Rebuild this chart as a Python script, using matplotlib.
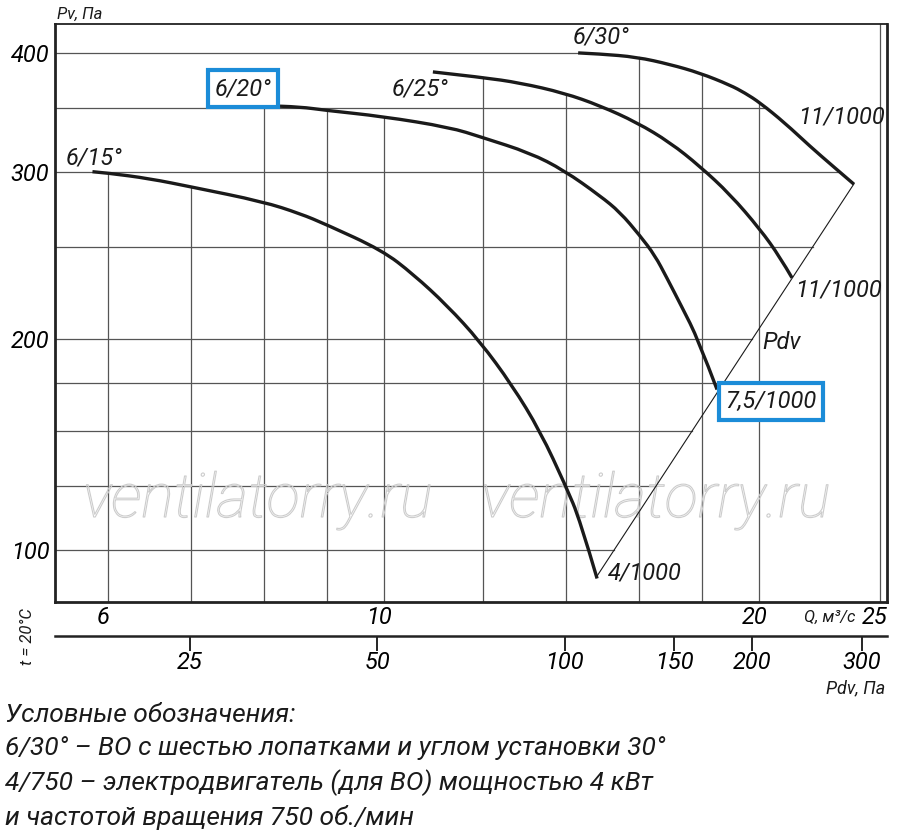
import numpy as np
import matplotlib
matplotlib.use("Agg")
import matplotlib.pyplot as plt
from matplotlib.ticker import NullLocator
from matplotlib import patheffects as pe
from matplotlib.path import Path
from matplotlib.patches import PathPatch
from matplotlib.transforms import ScaledTranslation

# ---------------- data (Q, 1000 m3/h ; Pv, Pa) ----------------
q_615 = [5.83, 6.00, 6.48, 7.01, 7.99, 8.56, 8.98, 9.96, 10.55, 11.23, 11.93, 12.66, 13.34, 13.99, 14.36, 14.82]
p_615 = [300, 299, 295, 289, 279, 271, 264, 248, 234, 217, 199, 179, 160, 140, 129, 112]

q_620 = [7.52, 7.99, 8.56, 8.98, 9.96, 11.29, 11.98, 13.09, 13.94, 14.90, 15.46, 16.04, 16.49, 16.86, 17.34, 17.86, 18.50]
p_620 = [353, 352, 351, 348, 343, 334, 326, 314, 301, 283, 272, 257, 245, 232, 216, 200, 177]

q_625 = [10.94, 11.98, 12.85, 13.94, 14.90, 15.95, 16.96, 17.92, 18.95, 20.03, 20.78, 21.25]
p_625 = [382, 377, 372, 363, 352, 338, 322, 304, 284, 261, 244, 232]

q_630 = [14.31, 14.90, 15.95, 16.96, 17.92, 18.95, 19.48, 20.03, 20.97, 21.97, 22.92, 23.83]
p_630 = [400, 399, 396, 389, 381, 370, 363, 354.5, 337.6, 319, 304, 291]

K_PDV = 0.513          # Pdv = K * Q^2

curve_names = ["6/15°", "6/20°", "6/25°", "6/30°"]
motor_labels = ["4/1000", "7,5/1000", "11/1000", "11/1000"]

grid_q = [6, 7, 8, 9, 10, 12, 14, 16, 18, 20, 25]
grid_p = [120, 140, 160, 180, 200, 250, 300, 350, 400]

q_ticks = [6, 10, 20, 25]
q_tick_labels = ["6", "10", "20", "25"]
p_ticks = [120, 200, 300, 400]
p_tick_labels = ["100", "200", "300", "400"]
pdv_ticks = [25, 50, 100, 150, 200, 300]
pdv_tick_labels = ["25", "50", "100", "150", "200", "300"]

legend_lines = [
    "Условные обозначения:",
    "6/30° – ВО с шестью лопатками и углом установки 30°",
    "4/750 – электродвигатель (для ВО) мощностью 4 кВт",
    "и частотой вращения 750 об./мин",
]

# ---------------- style ----------------
plt.rcParams["font.family"] = ["Roboto", "DejaVu Sans"]
plt.rcParams["font.style"] = "italic"
BLUE = "#1b8cd8"
GRID = "#555555"
INK = "#1a1a1a"

fig = plt.figure(figsize=(9, 8.4), dpi=100)
ax = fig.add_axes([55 / 900, 1 - 602 / 840, 832 / 900, 578 / 840])
ax.set_xscale("log")
ax.set_yscale("log")
XMIN, XMAX = 5.44, 25.33
YMIN, YMAX = 105.8, 429
ax.set_xlim(XMIN, XMAX)
ax.set_ylim(YMIN, YMAX)

curves = [(q_615, p_615), (q_620, p_620), (q_625, p_625), (q_630, p_630)]


def p_on_curve(qs, ps, q):
    return 10 ** np.interp(np.log10(q), np.log10(qs), np.log10(ps))


def q_on_curve(qs, ps, p):
    return 10 ** np.interp(np.log10(p), np.log10(ps[::-1]), np.log10(qs[::-1]))


def envelope(q):
    vals = [p_on_curve(qs, ps, q) for qs, ps in curves if qs[0] <= q <= qs[-1]]
    return max(vals) if vals else YMAX


def smooth_path(qs, ps):
    """Quadratic-Bezier path through the read points (rendering only)."""
    lq, lp = np.log10(qs), np.log10(ps)
    verts = [(qs[0], ps[0])]
    codes = [Path.MOVETO]
    n = len(qs)
    for i in range(1, n - 1):
        if i == n - 2:
            end = (qs[-1], ps[-1])
        else:
            end = (10 ** ((lq[i] + lq[i + 1]) / 2), 10 ** ((lp[i] + lp[i + 1]) / 2))
        verts += [(qs[i], ps[i]), end]
        codes += [Path.CURVE3, Path.CURVE3]
    return Path(verts, codes)


# gridlines (clipped by the working region like the reference)
for q in grid_q:
    ax.plot([q, q], [YMIN, envelope(q)], color=GRID, lw=0.9, zorder=1)
for p in grid_p:
    if p >= p_630[-1]:
        q_r = q_on_curve(q_630, p_630, p)
    else:
        q_r = np.sqrt(p / K_PDV)
    ax.plot([XMIN, q_r], [p, p], color=GRID, lw=0.9, zorder=1)

# fan curves
for qs, ps in curves:
    ax.add_patch(PathPatch(smooth_path(qs, ps), fill=False, ec=INK, lw=2.4,
                           capstyle="butt", zorder=3))

# dynamic pressure line
q_line = np.array([q_615[-1], q_630[-1]])
ax.plot(q_line, K_PDV * q_line ** 2, color=INK, lw=0.8, zorder=3)

# spines
for s, w in (("left", 2.0), ("bottom", 2.0), ("right", 2.0), ("top", 1.3)):
    ax.spines[s].set_linewidth(w)
    ax.spines[s].set_color("#222222")

# ticks
ax.set_xticks(q_ticks)
ax.set_xticklabels(q_tick_labels)
ax.xaxis.set_minor_locator(NullLocator())
ax.tick_params(axis="x", length=0, pad=3, labelsize=17)
shift = ScaledTranslation(-5 / 100, 0, fig.dpi_scale_trans)
for t in ax.get_xticklabels():
    t.set_transform(t.get_transform() + shift)
ax.set_yticks(p_ticks)
ax.set_yticklabels(p_tick_labels)
ax.yaxis.set_minor_locator(NullLocator())
ax.tick_params(axis="y", length=0, pad=4, labelsize=17)

# secondary Pdv axis
sec = ax.secondary_xaxis(
    -34 / 578,
    functions=(lambda q: K_PDV * np.asarray(q) ** 2,
               lambda p: np.sqrt(np.abs(np.asarray(p)) / K_PDV)),
)
sec.set_xticks(pdv_ticks)
sec.set_xticklabels(pdv_tick_labels)
sec.xaxis.set_minor_locator(NullLocator())
sec.tick_params(direction="out", length=11, width=1.2, pad=0, labelsize=17)
sec.spines["bottom"].set_linewidth(1.8)
sec.spines["bottom"].set_color("#222222")


# curve labels
def label(text, q, p, dx, dy, boxed=False, size=17):
    kw = dict(xy=(q, p), xytext=(dx, dy), textcoords="offset pixels",
              ha="center", va="center", fontsize=size, zorder=6, color=INK)
    if boxed:
        kw["bbox"] = dict(boxstyle="square,pad=0.28", fc="white", ec=BLUE, lw=3)
    ax.annotate(text, **kw)


label(curve_names[0], q_615[0], p_615[0], 2, 14)
label(curve_names[1], q_620[0], p_620[0], 13, 16, boxed=True)
label(curve_names[2], q_625[0], p_625[0], -13, -17)
label(curve_names[3], q_630[0], p_630[0], 23, 16)
label(motor_labels[3], q_630[-1], p_630[-1], -12, 67)
label(motor_labels[2], q_625[-1], p_625[-1], 46, -12)
label("Pdv", q_620[-1], p_620[-1], 65, 47)
label(motor_labels[1], q_620[-1], p_620[-1], 54, -12, boxed=True)
label(motor_labels[0], q_615[-1], p_615[-1], 48, 5)

# watermark (outlined text)
for xc in (258, 656):
    ax.text(xc / 900, 1 - 517 / 840, "ventilatorry.ru", transform=fig.transFigure,
            ha="center", va="baseline", fontsize=44, fontweight="light", color="none",
            zorder=2, path_effects=[pe.withStroke(linewidth=0.8, foreground="#cccccc")])

# axis titles
fig.text(57 / 900, 1 - 14 / 840, "Pv, Па", fontsize=12, ha="left", va="center", color=INK)
fig.text(830 / 900, 1 - 617 / 840, "Q, м³/с", fontsize=12, ha="center", va="center", color=INK)
fig.text(856 / 900, 1 - 688 / 840, "Pdv, Па", fontsize=13, ha="center", va="center", color=INK)
fig.text(28 / 900, 1 - 637 / 840, "t = 20°C", fontsize=12, ha="center", va="center",
         rotation=90, color=INK)

# legend text
for yb, line in zip((722, 755, 790, 825), legend_lines):
    fig.text(5 / 900, 1 - yb / 840, line, fontsize=19, ha="left", va="baseline", color=INK)

fig.savefig("out.png", dpi=100)
